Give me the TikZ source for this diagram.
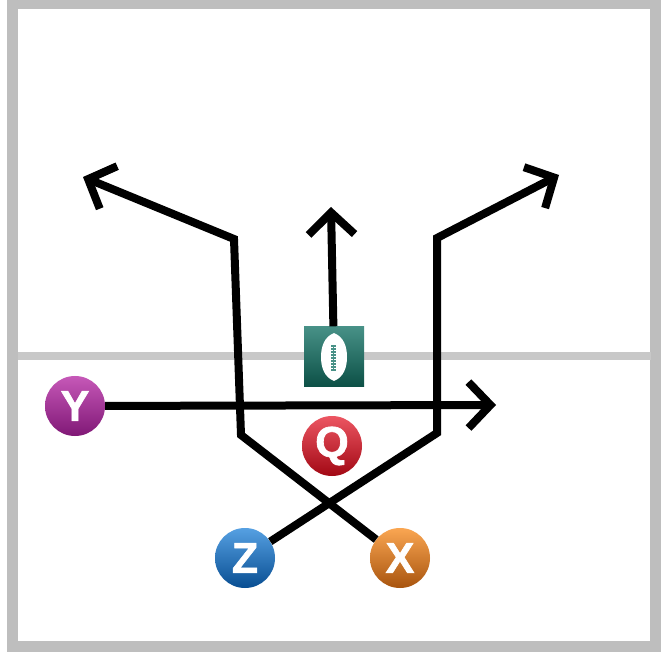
\documentclass[tikz,border=0pt]{standalone}
\usepackage{fontspec}
\setmainfont{Liberation Sans}[BoldFeatures={FakeBold=1.6}]
\usetikzlibrary{arrows.meta,shadings}

\definecolor{fieldgray}{RGB}{190,190,190}
\definecolor{linegray}{RGB}{200,200,200}
\definecolor{balltop}{RGB}{72,145,135}
\definecolor{ballbot}{RGB}{12,80,70}
\definecolor{ytop}{RGB}{198,88,184}
\definecolor{ybot}{RGB}{128,24,118}
\definecolor{qtop}{RGB}{236,86,98}
\definecolor{qbot}{RGB}{162,8,20}
\definecolor{ztop}{RGB}{86,160,226}
\definecolor{zbot}{RGB}{8,78,146}
\definecolor{xtop}{RGB}{250,166,82}
\definecolor{xbot}{RGB}{168,84,14}

\tikzset{
	player/.style={circle,minimum size=60pt,inner sep=0pt,text=white,
		font=\fontsize{43}{43}\selectfont\bfseries},
	route/.style={line width=8pt,line join=miter,-{Straight Barb[length=22pt,width=46pt,line width=8pt]}},
}

\begin{document}
\begin{tikzpicture}[x=1pt,y=-1pt]
	    \useasboundingbox (0,0) rectangle (667,652);
	    \fill [white] (0,0) rectangle (667,652);

	    % Setup some coordinates:
	    \coordinate (left cut)   at (234,239);
	    \coordinate (left hook)  at (241,435);
	    \coordinate (left end)   at (83,177);
	    \coordinate (right cut)  at (437,238);
	    \coordinate (right hook) at (437,433);
	    \coordinate (right end)  at (559,175);
	    \coordinate (mid end)    at (331,207);
	    \coordinate (y end)      at (496,405);

	    % Draw the field
	    \draw [fieldgray,line width=11pt] (12.5,4) rectangle (655,646);
	    \draw [linegray,line width=8pt] (18,356.5) -- (651,356.5);

	    % Draw the ball
	    \node (ball) at (334,356.5) [minimum size=60pt,inner sep=0pt,
		top color=balltop,bottom color=ballbot] {};
	    \fill [white] (334,333) .. controls (344,337) and (347,347) .. (347,357)
		.. controls (347,367) and (344,377) .. (334,381)
		.. controls (324,377) and (321,367) .. (321,357)
		.. controls (321,347) and (324,337) .. (334,333);
	    \draw [balltop,line width=1.2pt] (333.5,345) -- (333.5,370);
	    \foreach \y in {346,349,...,370}
		\draw [balltop,line width=1.2pt] (331,\y) -- (336,\y);

	    % Draw the players
	    \node (Y) at (75,406)  [player,top color=ytop,bottom color=ybot] {Y};
	    \node (Q) at (332,446) [player,top color=qtop,bottom color=qbot] {Q};
	    \node (Z) at (245,558) [player,top color=ztop,bottom color=zbot] {Z};
	    \node (X) at (400,558) [player,top color=xtop,bottom color=xbot] {X};

	    % And the routes
	    \draw [route] (Y) -- (y end);
	    \draw [route] (ball) -- (mid end);
	    \draw [route] (X) -- (left hook) -- (left cut) -- (left end);
	    \draw [route] (Z) -- (right hook) -- (right cut) -- (right end);
	\end{tikzpicture}
\end{document}
